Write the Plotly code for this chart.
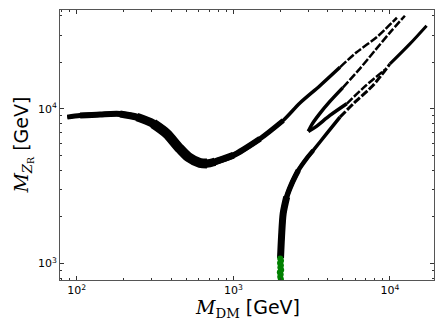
import plotly.graph_objs as go

# left branch: flat start, dip around 600-700 GeV, then rising to the upper right
left_x = [87, 105, 141, 189, 242, 308, 375, 445, 515, 612, 678, 763, 1000, 1480, 2080, 2660, 3570, 4790, 6120, 8210, 11070]
left_y = [8830, 9050, 9190, 9260, 8830, 8000, 6900, 5650, 4870, 4460, 4420, 4540, 5000, 6400, 8400, 10900, 14100, 18550, 23200, 29000, 38800]

# the narrow "V" near 3 TeV: upper and lower arms share the tip
upper_x = [3010, 3175, 3570, 4135, 5000, 6430, 8010, 9990, 12450]
upper_y = [7140, 7920, 9330, 11150, 13700, 18200, 23800, 31100, 40000]
lower_x = [3010, 3320, 4135, 5290, 7020, 9280]
lower_y = [7140, 7580, 9050, 10770, 14140, 17900]

# resonance branch rising from M_DM ~ 2 TeV
right_x = [2000, 2030, 2080, 2190, 2360, 2600, 2940, 3235, 3940, 4790, 6120, 7780, 9990, 13400, 17130]
right_y = [1080, 1480, 2100, 2690, 3280, 4000, 4780, 5380, 6900, 8830, 11300, 14140, 19500, 26300, 34500]

# green points at the bottom of that branch
green_x = [1990, 2015, 1985, 2010, 1995, 2020, 1980, 2005, 1990, 2012, 2000]
green_y = [1075, 1040, 1005, 970, 940, 905, 875, 845, 815, 790, 765]

major_ticks = [100, 1000, 10000]
major_text = ["10<sup>2</sup>", "10<sup>3</sup>", "10<sup>4</sup>"]
minor_ticks = [m * 10 ** e for e in range(1, 5) for m in range(2, 10)]


def add_piece(fig, xs, ys, i0, i1, width, dash="solid"):
    fig.add_trace(
        go.Scatter(
            x=xs[i0:i1 + 1],
            y=ys[i0:i1 + 1],
            mode="lines",
            line=dict(color="black", width=width, dash=dash, shape="spline", smoothing=0.8),
            hoverinfo="skip",
        )
    )


fig = go.Figure()
dashed = "8px,2px"

# the band of points is thicker around the dip, so stack thicker pieces
add_piece(fig, left_x, left_y, 0, 17, 3.5)
add_piece(fig, left_x, left_y, 17, 20, 2.5, dashed)
add_piece(fig, left_x, left_y, 0, 14, 5)
add_piece(fig, left_x, left_y, 1, 13, 6)
add_piece(fig, left_x, left_y, 3, 12, 7)
add_piece(fig, left_x, left_y, 4, 11, 8.5)
add_piece(fig, left_x, left_y, 5, 10, 10)

add_piece(fig, upper_x, upper_y, 0, 4, 3.5)
add_piece(fig, upper_x, upper_y, 4, 8, 2.5, dashed)
add_piece(fig, lower_x, lower_y, 0, 3, 3.5)
add_piece(fig, lower_x, lower_y, 3, 5, 2.5, dashed)

add_piece(fig, right_x, right_y, 0, 9, 3.5)
add_piece(fig, right_x, right_y, 9, 12, 3, dashed)
add_piece(fig, right_x, right_y, 12, 14, 3)
add_piece(fig, right_x, right_y, 0, 7, 4.5)
add_piece(fig, right_x, right_y, 0, 5, 5.5)
add_piece(fig, right_x, right_y, 0, 3, 7)

fig.add_trace(
    go.Scatter(
        x=green_x,
        y=green_y,
        mode="markers",
        marker=dict(color="green", size=6),
        hoverinfo="skip",
    )
)

axis_common = dict(
    type="log",
    showgrid=False,
    zeroline=False,
    showline=True,
    linecolor="#555555",
    linewidth=1,
    mirror="allticks",
    ticks="inside",
    ticklen=4,
    tickcolor="#333333",
    tickvals=major_ticks,
    ticktext=major_text,
    tickfont=dict(family="DejaVu Sans", size=11, color="black"),
    minor=dict(tickmode="array", tickvals=minor_ticks, ticks="inside", ticklen=2, tickcolor="#333333"),
)

# the page body has an 8px margin, so the figure is made smaller to fit the window
fig.update_layout(
    width=428,
    height=317,
    margin=dict(l=52, r=2, t=2, b=45),
    paper_bgcolor="white",
    plot_bgcolor="white",
    showlegend=False,
    xaxis=dict(axis_common, range=[1.893, 4.281]),
    yaxis=dict(axis_common, range=[2.892, 4.639]),
    annotations=[
        dict(
            text='<span style="font-family:DejaVu Serif"><i>M</i><sub>DM</sub></span> [GeV]',
            xref="paper", yref="paper", x=0.5, y=-0.105,
            xanchor="center", yanchor="middle", showarrow=False,
            font=dict(family="DejaVu Sans", size=19, color="black"),
        ),
        dict(
            text='<span style="font-family:DejaVu Serif"><i>M</i><sub><i>Z</i><sub>R</sub></sub></span> [GeV]',
            xref="paper", yref="paper", x=-0.1, y=0.5,
            xanchor="center", yanchor="middle", showarrow=False, textangle=-90,
            font=dict(family="DejaVu Sans", size=19, color="black"),
        ),
    ],
)

fig.write_html("out.html")
